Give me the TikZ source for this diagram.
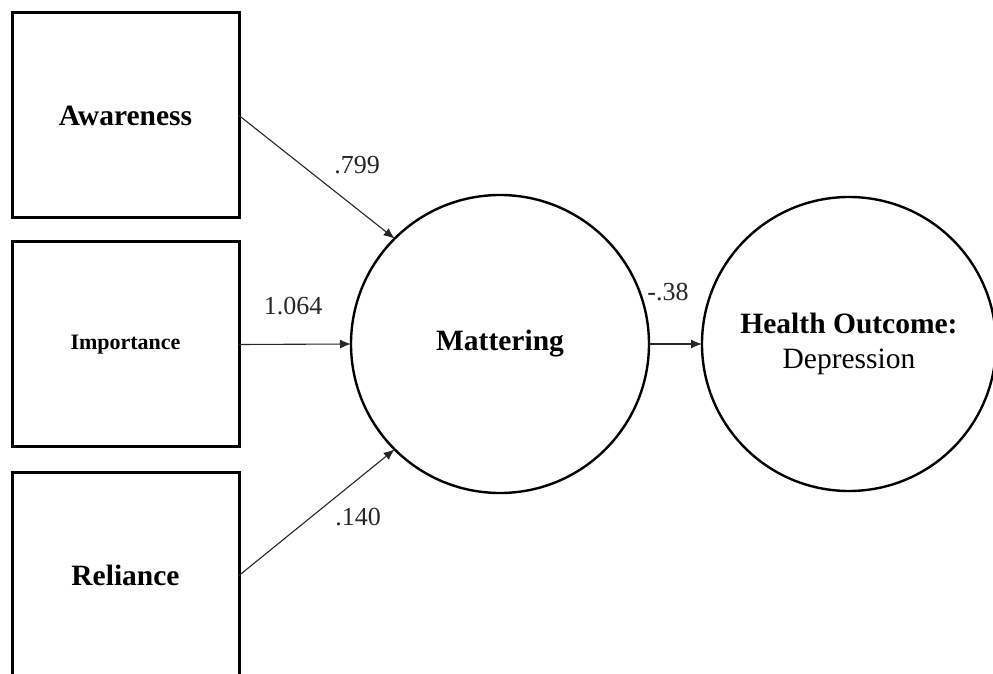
\documentclass[tikz,border=0pt]{standalone}
\usepackage{fontspec}
\setmainfont{Liberation Serif}
\usetikzlibrary{arrows.meta}
\begin{document}
\begin{tikzpicture}[x=0.5pt,y=-0.5pt,
  varbox/.style={draw=black,line width=1.5pt,minimum width=113.5pt,minimum height=102.5pt,inner sep=0pt,outer sep=0pt,font=\fontsize{14.75}{17}\selectfont\bfseries},
  latent/.style={draw=black,circle,line width=1.2pt,inner sep=0pt,outer sep=0pt,align=center,font=\fontsize{14.75}{18.5}\selectfont},
  path/.style={draw=black!85,line width=0.55pt,-{Latex[length=5.5pt,width=4.5pt]}},
  coef/.style={font=\fontsize{13}{15}\selectfont,text=black!85}]
\useasboundingbox (0,0) rectangle (993,674);
\node[varbox] (aw) at (125.5,115.5) {\raisebox{-1.2pt}{Awareness}};
\node[varbox,font=\fontsize{11}{13}\selectfont\bfseries] (im) at (125.5,344.5) {\raisebox{-0.5pt}{Importance}};
\node[varbox] (re) at (125.5,575.5) {Reliance};
\node[latent,minimum size=149pt] (ma) at (500,344) {\raisebox{-1.5pt}{\textbf{Mattering}}};
\node[latent,minimum size=147pt] (ho) at (849,344) {\raisebox{-2.5pt}{\begin{tabular}{@{}c@{}}\textbf{Health Outcome:}\\[-1pt]Depression\end{tabular}}};
\draw[path] (aw.east) -- (ma.135);
\draw[path] (im.east) -- (ma.west);
\draw[path] (re.east) -- (ma.225);
\draw[path] (ma.east) -- (ho.west);
\node[coef] (c1) at (357,165) {.799};
\node[coef] (c2) at (293,306) {1.064};
\node[coef] (c3) at (358,517) {.140};
\node[coef] (c4) at (668,292) {-.38};
\end{tikzpicture}
\end{document}
